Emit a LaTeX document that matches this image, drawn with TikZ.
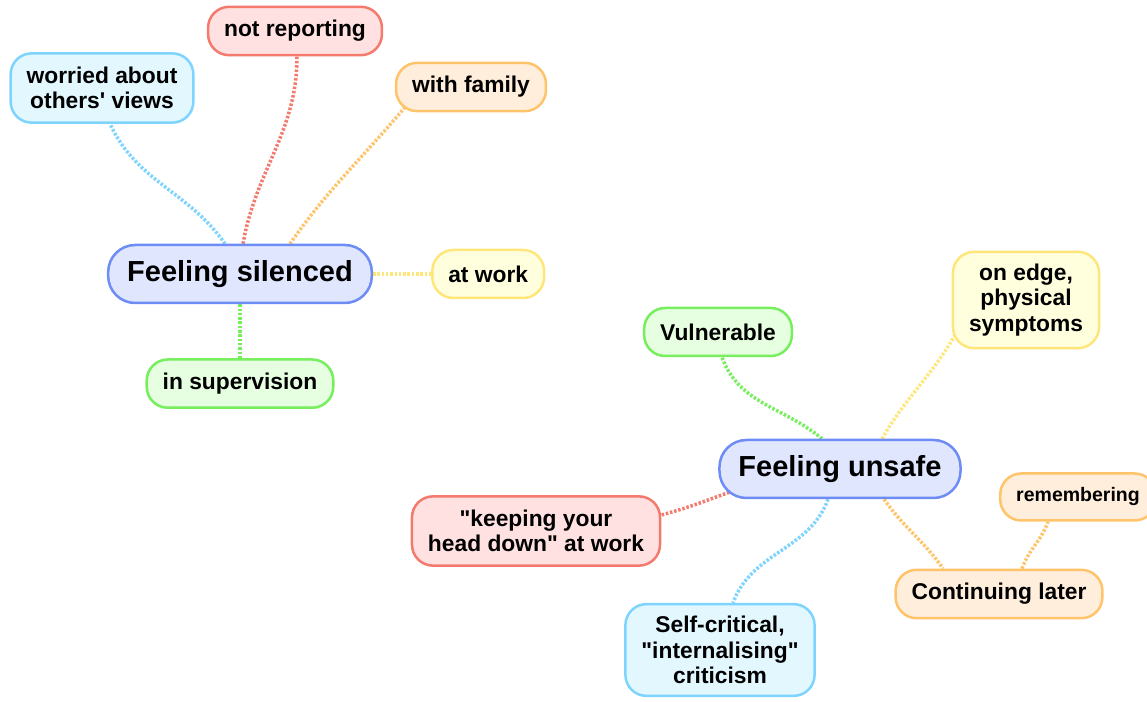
\documentclass[tikz,border=0pt]{standalone}
\usepackage{fontspec}
\setmainfont{Liberation Sans}
\usepackage{tikz}
\usetikzlibrary{positioning,backgrounds}
\definecolor{cblue}{HTML}{6D8CF5}
\definecolor{cbluefill}{HTML}{E1E6FF}
\definecolor{ccyan}{HTML}{7ED4FF}
\definecolor{ccyanfill}{HTML}{E3F7FF}
\definecolor{cred}{HTML}{F47A6E}
\definecolor{credfill}{HTML}{FFE1E1}
\definecolor{corange}{HTML}{FFC46A}
\definecolor{corangefill}{HTML}{FFEEDC}
\definecolor{cyellow}{HTML}{FFE67A}
\definecolor{cyellowfill}{HTML}{FFFFDE}
\definecolor{cgreen}{HTML}{76EE5E}
\definecolor{cgreenfill}{HTML}{E6FFE0}

\begin{document}
\begin{tikzpicture}[x=1pt,y=1pt,node distance=50pt,
  main node/.style={draw=cblue,fill=cbluefill,line width=2.5pt,rounded corners=27pt,
    minimum height=58pt,inner xsep=19pt,font=\fontsize{29}{33}\selectfont\bfseries},
  others node/.style={line width=2.5pt,rounded corners=21pt,minimum height=48pt,
    inner xsep=16pt,inner ysep=13.5pt,align=center,font=\fontsize{22.8}{25.5}\selectfont\bfseries},
  cyan node/.style={others node,draw=ccyan,fill=ccyanfill},
  red node/.style={others node,draw=cred,fill=credfill},
  orange node/.style={others node,draw=corange,fill=corangefill},
  yellow node/.style={others node,draw=cyellow,fill=cyellowfill},
  green node/.style={others node,draw=cgreen,fill=cgreenfill},
  link/.style={line width=3.5pt,dash pattern=on 2.5pt off 1.8pt},
  cyan link/.style={link,draw=ccyan},
  red link/.style={link,draw=cred},
  orange link/.style={link,draw=corange},
  yellow link/.style={link,draw=cyellow},
  green link/.style={link,draw=cgreen}]
  \useasboundingbox (0,0) rectangle (1147,701);

  \node[main node] (fs) at (240,427) {Feeling silenced};
  \node[cyan node] (wa) at (102,613) {worried about\\others\textquotesingle{} views};
  \node[red node] (nr) at (295,670) {not reporting};
  \node[orange node] (wf) at (471,614) {with family};
  \node[yellow node] (aw) [right=58pt of fs] {at work};
  \node[green node] (sv) [below=54pt of fs] {in supervision};

  \node[main node] (fu) at (840,232) {Feeling unsafe};
  \node[green node] (vu) at (718,369) {Vulnerable};
  \node[yellow node,inner ysep=12pt] (oe) at (1026,401) {on edge,\\physical\\symptoms};
  \node[red node] (kh) at (536,170) {\textquotedbl keeping your\\head down\textquotedbl{} at work};
  \node[cyan node,inner ysep=12pt] (sc) at (720,51) {Self-critical,\\\textquotedbl internalising\textquotedbl\\criticism};
  \node[orange node] (cl) at (999,107) {Continuing later};
  \node[orange node,font=\fontsize{19.5}{22}\selectfont\bfseries,minimum height=47pt] (re) at (1078,204) {remembering};

  \begin{pgfonlayer}{background}
  \path
    ([xshift=-15pt]fs.north) edge[cyan link,out=125,in=-65] ([xshift=8pt]wa.south)
    ([xshift=3pt]fs.north) edge[red link,out=80,in=-90] ([xshift=2pt]nr.south)
    ([xshift=50pt]fs.north) edge[orange link,out=55,in=-130] ([shift={(10pt,5pt)}]wf.south west)
    (fs.east) edge[yellow link] (aw.west)
    (fs.south) edge[green link] (sv.north);

  \path
    ([xshift=-18pt]fu.north) edge[green link,out=140,in=-70] ([xshift=4pt]vu.south)
    ([xshift=42pt]fu.north) edge[yellow link,out=60,in=-120] ([shift={(3pt,14pt)}]oe.south west)
    ([shift={(11pt,7pt)}]fu.south west) edge[red link,out=200,in=15] ([yshift=16pt]kh.east)
    ([xshift=-12pt]fu.south) edge[cyan link,out=-110,in=70] ([xshift=13pt]sc.north)
    ([xshift=44pt]fu.south) edge[orange link,out=-55,in=125] ([xshift=-56pt]cl.north)
    ([xshift=23pt]cl.north) edge[orange link,out=70,in=-110] ([xshift=-30pt]re.south);
  \end{pgfonlayer}
\end{tikzpicture}
\end{document}
